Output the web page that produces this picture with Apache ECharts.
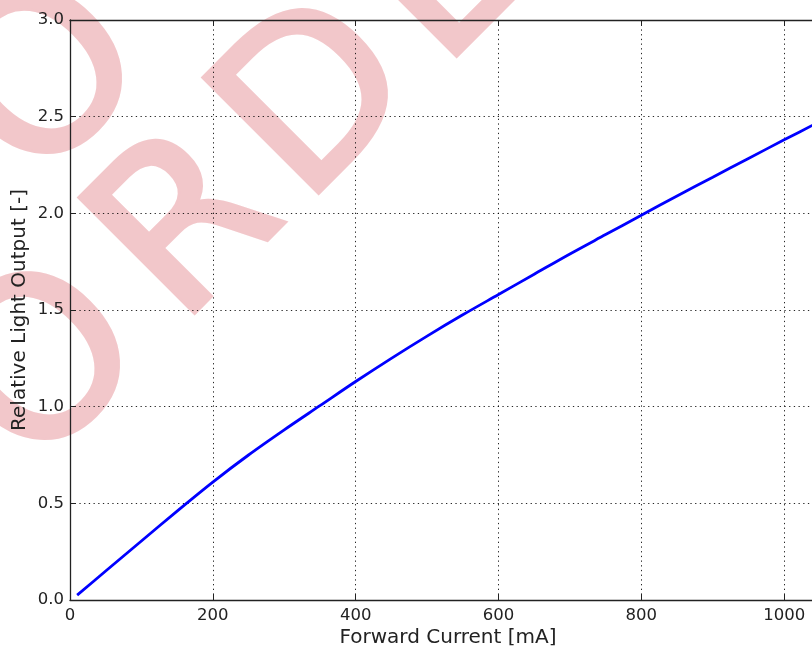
<!DOCTYPE html>
<html>
<head>
<meta charset="utf-8">
<script src="https://cdn.jsdelivr.net/npm/echarts@6/dist/echarts.min.js"></script>
<style>
html,body{margin:0;padding:0;background:#fff;}
#chart{width:812px;height:648px;}
</style>
</head>
<body>
<div id="chart"></div>
<script>
// Data
const currentMA = [10, 50, 100, 150, 200, 250, 300, 350, 400, 450, 500, 550, 600, 650, 700, 750, 800, 850, 900, 950, 1000, 1050];
const relOutput = [0.025, 0.15, 0.305, 0.46, 0.61, 0.75, 0.88, 1.005, 1.13, 1.25, 1.365, 1.475, 1.58, 1.685, 1.79, 1.89, 1.99, 2.09, 2.187, 2.284, 2.38, 2.475];
const xTicks = [0, 200, 400, 600, 800, 1000];
const yTicks = ['0.0', '0.5', '1.0', '1.5', '2.0', '2.5', '3.0'];
const xTitle = 'Forward Current [mA]';
const yTitle = 'Relative Light Output [-]';
const watermarkLetters = ['O', 'O', 'R', 'D', 'E'];

const chart = echarts.init(document.getElementById('chart'), null, {renderer: 'canvas'});
const FONT = '"DejaVu Sans", sans-serif';
const wmPos = [[54, 86], [52, 372], [193, 232], [323, 106], [450, -20]];

const gridDot = {color: 'rgba(0,0,0,0.85)', width: 1, type: [1.3, 3.4]};

const graphics = watermarkLetters.map((ch, i) => ({
  type: 'text',
  x: wmPos[i][0], y: wmPos[i][1],
  rotation: Math.PI / 4,
  z: -100, zlevel: 0,
  silent: true,
  style: {
    text: ch,
    font: 'normal 222px ' + FONT,
    fill: '#f2c7ca',
    stroke: '#f2c7ca',
    lineWidth: 5,
    lineJoin: 'miter',
    align: 'center',
    verticalAlign: 'middle'
  }
}));
graphics.push({
  type: 'text',
  x: 20, y: 310,
  rotation: Math.PI / 2,
  z: 10,
  silent: true,
  style: {
    text: yTitle,
    font: 'normal 20px ' + FONT,
    fill: '#222',
    align: 'center',
    verticalAlign: 'middle'
  }
});

const option = {
  animation: false,
  backgroundColor: '#fff',
  graphic: graphics,
  grid: {left: 70, top: 20, right: 0, bottom: 48, containLabel: false, outerBoundsMode: 'none'},
  xAxis: [{
    type: 'value', min: 0, max: 1039, interval: 200,
    name: xTitle, nameLocation: 'middle', nameGap: 28, nameMoveOverlap: false,
    nameTextStyle: {fontFamily: FONT, fontSize: 20, color: '#222', padding: [0, 0, 0, 14]},
    axisLine: {lineStyle: {color: '#222', width: 1.3}},
    axisTick: {inside: true, length: 6, lineStyle: {color: '#222', width: 1}},
    axisLabel: {fontFamily: FONT, fontSize: 16.5, color: '#222', margin: 7, showMaxLabel: false,
      formatter: v => xTicks.indexOf(v) >= 0 ? String(v) : ''},
    splitLine: {show: true, lineStyle: gridDot}
  }, {
    type: 'value', min: 0, max: 1039, interval: 200, position: 'top',
    axisLine: {show: true, lineStyle: {color: '#222', width: 1.3}},
    axisTick: {show: true, inside: true, length: 6, lineStyle: {color: '#222', width: 1}},
    axisLabel: {show: false},
    splitLine: {show: false}
  }],
  yAxis: {
    type: 'value', min: 0, max: 3, interval: 0.5,
    axisLine: {show: true, lineStyle: {color: '#222', width: 1.3}},
    axisTick: {show: true, inside: true, length: 6, lineStyle: {color: '#222', width: 1}},
    axisLabel: {fontFamily: FONT, fontSize: 16.5, color: '#222', margin: 6,
      formatter: v => yTicks[Math.round(v / 0.5)]},
    splitLine: {show: true, lineStyle: gridDot}
  },
  series: [{
    type: 'line',
    data: currentMA.map((x, i) => [x, relOutput[i]]),
    showSymbol: false,
    smooth: 0.3,
    clip: true,
    lineStyle: {color: '#0000ff', width: 2.8},
    z: 5
  }]
};
chart.setOption(option);
</script>
</body>
</html>
